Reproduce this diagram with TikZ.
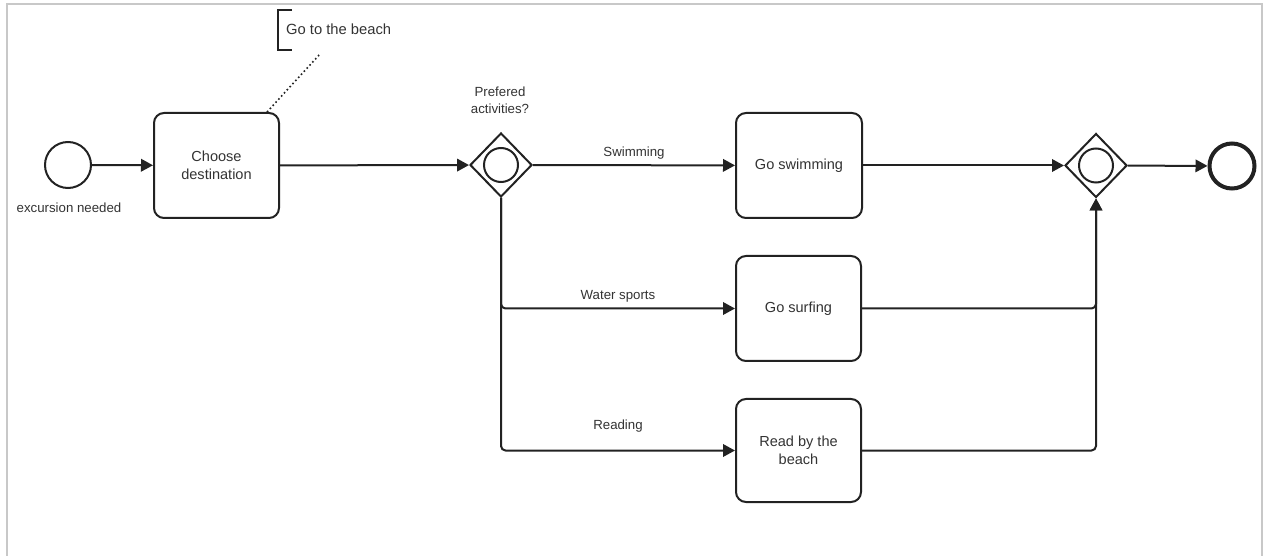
\documentclass[tikz,border=0pt]{standalone}
\usepackage{fontspec}
\setmainfont{Liberation Sans}
\usetikzlibrary{shapes.geometric,arrows.meta}
\definecolor{ink}{HTML}{222222}
\definecolor{txt}{HTML}{333333}
\definecolor{frame}{HTML}{C8C8C8}
\begin{document}
\begin{tikzpicture}[x=1bp,y=-1bp,
  every node/.style={text=txt},
  flow/.style={draw=ink,line width=2bp,-{Triangle[length=12bp,width=12.5bp]},rounded corners=4.5bp},
  task/.style={draw=ink,line width=2bp,rounded corners=10bp,minimum width=125bp,minimum height=105bp,inner sep=0pt,align=center,font=\fontsize{14.6}{18}\selectfont},
  gate/.style={draw=ink,line width=2bp,diamond,minimum width=62bp,minimum height=64bp,inner sep=0pt},
  ring/.style={draw=ink,line width=2bp,circle,minimum size=34bp,inner sep=0pt},
  lbl/.style={font=\fontsize{13.3}{17}\selectfont,align=center,inner sep=0pt},
]
% canvas and frame
\useasboundingbox (0,0) rectangle (1263,556);
\draw[frame,line width=2bp] (7,556) -- (7,4) -- (1262,4) -- (1262,556);

% events
\node[draw=ink,line width=2bp,circle,minimum size=46bp,inner sep=0pt] (start) at (68,165) {};
\node[lbl] (startlbl) at (69,208) {excursion needed};
\node[draw=ink,line width=4bp,circle,minimum size=45bp,inner sep=0pt] (end) at (1232,166) {};

% tasks
\node[task] (choose) at (216.5,165.5) {Choose\\destination};
\node[task,minimum width=126bp] (swim) at (799,165.5) {Go swimming};
\node[task] (surf) at (798.5,308.5) {Go surfing};
\node[task,minimum height=103bp] (read) at (798.5,450.5) {Read by the\\beach};

% gateways
\node[gate] (split) at (501,165) {};
\node[ring] (splitring) at (501,165) {};
\node[lbl] (splitlbl) at (500,100.5) {Prefered\\activities?};
\node[gate] (join) at (1096,165.5) {};
\node[ring] (joinring) at (1096,165.5) {};

% annotation
\node[lbl,anchor=west,font=\fontsize{14.8}{17}\selectfont] (note) at (286,29) {Go to the beach};
\draw[ink,line width=2bp] (292,10) -- (278,10) -- (278,50) -- (292,50);
\coordinate (notefoot) at (320,54);
\coordinate (choosetop) at (267,112);
\draw[ink,line width=1.6bp,dash pattern=on 1.6bp off 2.6bp] (choosetop) -- (notefoot);

% sequence flows
\draw[flow] (start) -- (choose);
\draw[flow] (choose) -- (split);
\draw[flow] (split) -- node[lbl,above=5bp] (lswim) {Swimming} (swim);
\draw[flow] (split.south) |- node[lbl,pos=0.75,above=5bp] (lsurf) {Water sports} (surf.west);
\draw[flow] (split.south) |- node[lbl,pos=0.75,above=17bp] (lread) {Reading} (read.west);
\draw[flow] (swim) -- (join);
\draw[flow] (surf.east) -| (join.south);
\draw[flow] (read.east) -| (join.south);
\draw[flow] (join) -- (end);
\end{tikzpicture}
\end{document}
